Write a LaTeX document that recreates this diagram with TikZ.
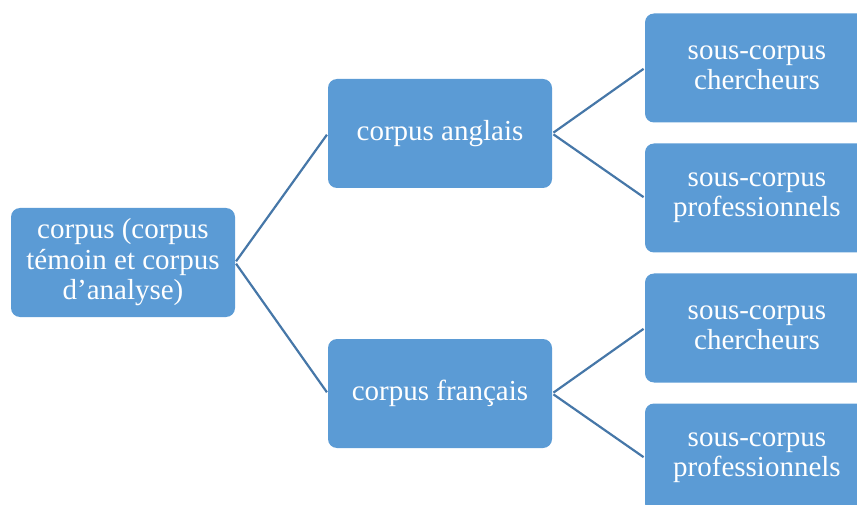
\documentclass[tikz,border=0pt]{standalone}
\usepackage{fontspec}
\setmainfont{Liberation Serif}
\definecolor{boxblue}{HTML}{5B9BD5}
\definecolor{linkblue}{HTML}{4677A8}
\begin{document}
\begin{tikzpicture}[x=1pt,y=-1pt,
  box/.style={fill=boxblue, draw=none, rounded corners=9pt, minimum width=224pt, minimum height=109pt,
    text=white, align=center, font=\fontsize{29}{30.5}\selectfont, inner sep=0pt},
  link/.style={draw=linkblue, line width=2.2pt, shorten <=1.5pt, shorten >=1.5pt}]
\useasboundingbox (0,0) rectangle (857,505);
\clip (0,0) rectangle (857,505);
\node[box] (root) at (123,262.5) {corpus (corpus\\témoin et corpus\\d’analyse)};
\node[box] (en) at (440,133.5) {corpus anglais};
\node[box] (fr) at (440,393.5) {corpus français};
\node[box] (en1) at (757,68) {sous-corpus\\chercheurs};
\node[box] (en2) at (757,198) {sous-corpus\\professionnels};
\node[box] (fr1) at (757,328) {sous-corpus\\chercheurs};
\node[box] (fr2) at (757,458) {sous-corpus\\professionnels};
\draw[link] (root.east) -- (en.west);
\draw[link] (root.east) -- (fr.west);
\draw[link] (en.east) -- (en1.west);
\draw[link] (en.east) -- (en2.west);
\draw[link] (fr.east) -- (fr1.west);
\draw[link] (fr.east) -- (fr2.west);
\end{tikzpicture}
\end{document}
